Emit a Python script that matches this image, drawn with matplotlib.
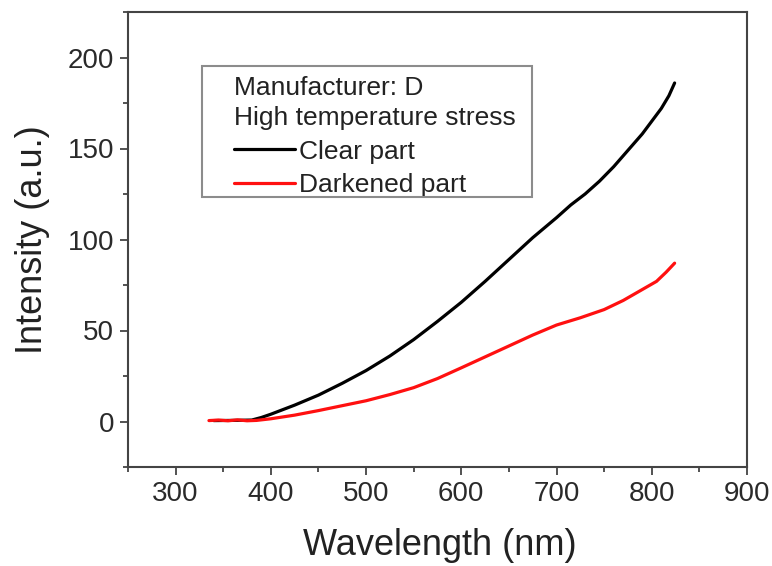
import matplotlib
matplotlib.use("Agg")
import matplotlib.pyplot as plt
from matplotlib.patches import Rectangle
from matplotlib.ticker import MultipleLocator

plt.rcParams['font.family'] = ['Liberation Sans', 'DejaVu Sans']

# ---- data ----
clear_x = [340, 360, 380, 390, 400, 425, 450, 475, 500, 525, 550, 575, 600, 625,
           650, 675, 700, 715, 730, 745, 760, 775, 790, 800, 810, 818, 824]
clear_y = [0.5, 0.6, 0.8, 2.2, 4, 9, 14.5, 21, 28, 36, 45, 55, 65.5, 77,
           89, 101, 112, 119, 125, 132, 140, 149, 158, 165, 172, 179, 186]

dark_x = [335, 345, 355, 365, 375, 385, 400, 425, 450, 475, 500, 525, 550, 575,
          600, 625, 650, 675, 700, 725, 750, 770, 790, 805, 815, 824]
dark_y = [0.5, 0.8, 0.4, 0.9, 0.4, 0.6, 1.5, 3.5, 6, 8.7, 11.4, 14.8, 18.6, 23.6,
          29.5, 35.5, 41.5, 47.5, 53, 57, 61.5, 66.5, 72.5, 77, 82, 87]

series_labels = ["Clear part", "Darkened part"]
legend_title = "Manufacturer: D\nHigh temperature stress"
x_ticks = [300, 400, 500, 600, 700, 800, 900]
y_ticks = [0, 50, 100, 150, 200]

W, H = 772, 566
fig = plt.figure(figsize=(W / 100, H / 100), dpi=100)
ax = fig.add_axes([128 / W, 1 - 467 / H, 619 / W, 455 / H])

l1, = ax.plot(clear_x, clear_y, color='#000000', lw=2.3, label=series_labels[0],
              solid_capstyle='round')
l2, = ax.plot(dark_x, dark_y, color='#ff1010', lw=2.3, label=series_labels[1],
              solid_capstyle='round')

ax.set_xlim(250, 900)
ax.set_ylim(-25, 225)
ax.set_xticks(x_ticks)
ax.set_yticks(y_ticks)
ax.xaxis.set_minor_locator(MultipleLocator(50))
ax.yaxis.set_minor_locator(MultipleLocator(25))

spine_c = '#444444'
for s in ax.spines.values():
    s.set_color(spine_c)
    s.set_linewidth(1.5)
ax.tick_params(which='major', direction='out', length=6, width=1.3,
               color=spine_c, labelsize=20, labelcolor='#2a2a2a', pad=4)
ax.tick_params(which='minor', direction='out', length=3.5, width=1.3, color=spine_c)
ax.tick_params(top=False, right=False, which='both')

ax.set_xlabel("Wavelength (nm)", fontsize=26, color='#222222')
ax.set_ylabel("Intensity (a.u.)", fontsize=26, color='#222222')
ax.xaxis.set_label_coords(0.503, -0.133)
ax.yaxis.set_label_coords(-0.126, 0.5)

leg = ax.legend(handles=[l1, l2], title=legend_title, alignment='left',
                loc='upper left', bbox_to_anchor=(221 / W, 1 - 63 / H),
                bbox_transform=fig.transFigure, frameon=False, borderpad=0,
                fontsize=19, title_fontsize=19, handlelength=2.3,
                handletextpad=0.15, labelspacing=0.35)
for t in leg.get_texts():
    t.set_color('#222222')
leg.get_title().set_color('#222222')
leg.get_title().set_linespacing(1.32)

box = Rectangle((202 / W, 1 - 197 / H), 330 / W, 131 / H, transform=fig.transFigure,
                fill=False, edgecolor='#8c8c8c', lw=1.5)
fig.patches.append(box)

fig.savefig("out.png", dpi=100)
